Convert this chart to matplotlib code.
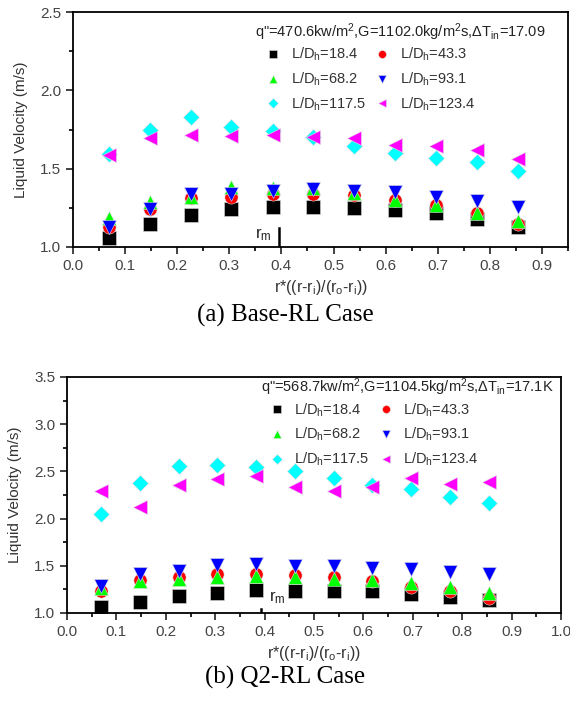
import matplotlib
matplotlib.use('Agg')
import matplotlib.pyplot as plt
from matplotlib.ticker import MultipleLocator

plt.rcParams['font.family'] = ['Liberation Sans', 'DejaVu Sans']
plt.rcParams['mathtext.fontset'] = 'custom'
plt.rcParams['mathtext.rm'] = 'Liberation Sans'
plt.rcParams['mathtext.it'] = 'Liberation Sans'

# radial positions (same for both cases)
r_pos = [0.069, 0.147, 0.227, 0.304, 0.383, 0.461, 0.540, 0.618, 0.697, 0.775, 0.854]

labels = ['L/D$_h$=18.4', 'L/D$_h$=43.3', 'L/D$_h$=68.2',
          'L/D$_h$=93.1', 'L/D$_h$=117.5', 'L/D$_h$=123.4']
colors = ['#000000', '#ff0000', '#00ff00', '#0000ff', '#00ffff', '#ff00ff']
markers = ['s', 'o', '^', 'v', 'D', '<']

# (a) Base-RL case
base_18 = [1.06, 1.146, 1.206, 1.24, 1.255, 1.255, 1.248, 1.238, 1.216, 1.18, 1.13]
base_43 = [1.13, 1.24, 1.31, 1.32, 1.337, 1.34, 1.33, 1.30, 1.27, 1.216, 1.15]
base_68 = [1.185, 1.285, 1.32, 1.38, 1.375, 1.375, 1.345, 1.30, 1.27, 1.22, 1.165]
base_93 = [1.13, 1.24, 1.337, 1.337, 1.36, 1.37, 1.36, 1.348, 1.32, 1.295, 1.255]
base_117 = [1.594, 1.747, 1.832, 1.768, 1.743, 1.70, 1.645, 1.598, 1.567, 1.541, 1.486]
base_123 = [1.588, 1.694, 1.715, 1.709, 1.715, 1.705, 1.694, 1.651, 1.645, 1.62, 1.562]

# (b) Q2-RL case
q2_18 = [1.06, 1.116, 1.183, 1.21, 1.24, 1.236, 1.236, 1.23, 1.204, 1.17, 1.134]
q2_43 = [1.23, 1.345, 1.38, 1.415, 1.415, 1.40, 1.38, 1.335, 1.28, 1.23, 1.16]
q2_68 = [1.264, 1.335, 1.36, 1.38, 1.394, 1.38, 1.36, 1.352, 1.317, 1.275, 1.21]
q2_93 = [1.29, 1.41, 1.45, 1.51, 1.517, 1.50, 1.493, 1.475, 1.465, 1.433, 1.41]
q2_117 = [2.05, 2.38, 2.556, 2.567, 2.55, 2.507, 2.433, 2.356, 2.313, 2.232, 2.162]
q2_123 = [2.29, 2.12, 2.36, 2.42, 2.45, 2.338, 2.296, 2.331, 2.426, 2.366, 2.39]

W, H = 570, 706
fig = plt.figure(figsize=(W / 100, H / 100), dpi=100)


def px_axes(left, right, top, bottom):
    return fig.add_axes([left / W, 1 - bottom / H, (right - left) / W, (bottom - top) / H])


def draw_case(ax, series, xmax, ymax, note, note_xy, leg_xy, rm_line, rm_text):
    handles = []
    for ys, lab, c, m in zip(series, labels, colors, markers):
        ms = {'s': 10, 'o': 9.5, '^': 10.5, 'v': 10.5, 'D': 8.5, '<': 10.5}[m]
        h, = ax.plot(r_pos, ys, linestyle='none', marker=m, color=c, ms=ms,
                     mec='#dddddd', mew=0.4, label=lab)
        handles.append(h)
    ax.set_xlim(0, xmax)
    ax.set_ylim(1.0, ymax)
    ax.xaxis.set_major_locator(MultipleLocator(0.1))
    ax.xaxis.set_minor_locator(MultipleLocator(0.05))
    ax.yaxis.set_major_locator(MultipleLocator(0.5))
    ax.yaxis.set_minor_locator(MultipleLocator(0.25))
    ax.tick_params(which='major', direction='out', length=5, width=1.2,
                   labelsize=11, colors='#222222', labelcolor='#444444')
    ax.tick_params(which='minor', direction='out', length=3, width=1.2)
    for s in ax.spines.values():
        s.set_linewidth(1.3)
    ax.set_ylabel('Liquid Velocity (m/s)', fontsize=11, color='#333333', labelpad=9)
    ax.set_xlabel('r*((r-r$_i$)/(r$_o$-r$_i$))', fontsize=11.5, color='#333333', labelpad=4)
    ax.text(note_xy[0], note_xy[1], note, transform=ax.transAxes, ha='right', va='center',
            fontsize=10.5, color='#222222')
    # row-wise legend order, as in the original
    order = [0, 2, 4, 1, 3, 5]
    leg = ax.legend([handles[i] for i in order], [labels[i] for i in order],
                    ncol=2, loc='upper left', bbox_to_anchor=leg_xy,
                    frameon=False, fontsize=10.5, markerscale=0.6, handlelength=1.0,
                    handletextpad=0.7, columnspacing=0.6, labelspacing=0.5,
                    borderpad=0, borderaxespad=0)
    for t in leg.get_texts():
        t.set_color('#333333')
    ax.plot([rm_line[0], rm_line[0]], [rm_line[1], rm_line[2]], color='black', lw=1.8)
    ax.text(rm_text[0], rm_text[1], 'r$_m$', fontsize=12, color='#222222',
            ha='center', va='center')


ax1 = px_axes(73, 568, 12, 247)
draw_case(ax1, [base_18, base_43, base_68, base_93, base_117, base_123], 0.95, 2.5,
          'q"=470.6kw/m$^2$,G=1102.0kg/m$^2$s,$\\Delta$T$_{in}$=17.09', (0.955, 0.912),
          (0.39, 0.855), (0.395, 1.0, 1.12), (0.365, 1.08))

ax2 = px_axes(67, 561, 377, 613)
draw_case(ax2, [q2_18, q2_43, q2_68, q2_93, q2_117, q2_123], 1.0, 3.5,
          'q"=568.7kw/m$^2$,G=1104.5kg/m$^2$s,$\\Delta$T$_{in}$=17.1K', (0.985, 0.955),
          (0.41, 0.897), (0.393, 1.0, 1.04), (0.425, 1.16))

fig.text(0.5, 1 - 315 / H, '(a) Base-RL Case', ha='center', va='center',
         fontsize=18, family='Liberation Serif')
fig.text(0.5, 1 - 677 / H, '(b) Q2-RL Case', ha='center', va='center',
         fontsize=18, family='Liberation Serif')

fig.savefig('out.png', dpi=100)
